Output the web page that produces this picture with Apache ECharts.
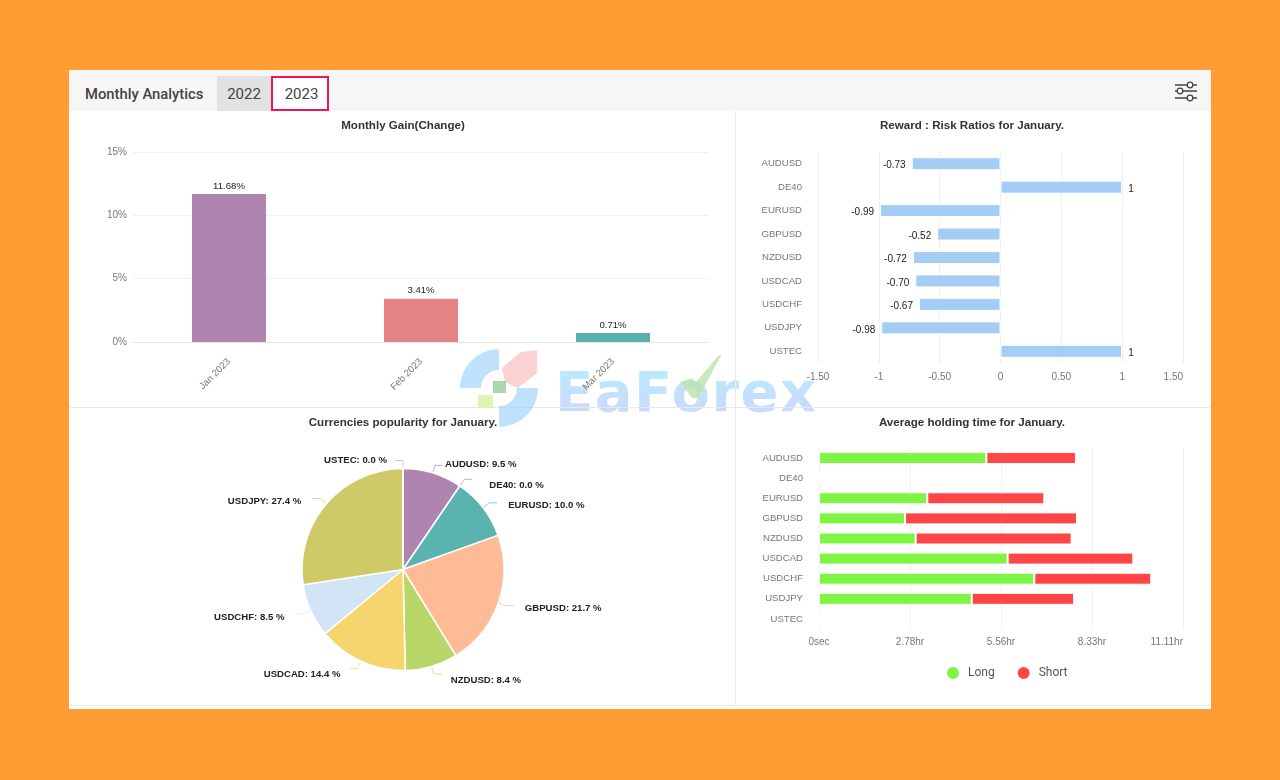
<!DOCTYPE html>
<html>
<head>
<meta charset="utf-8">
<title>Monthly Analytics</title>
<script src="https://cdn.jsdelivr.net/npm/echarts@6/dist/echarts.min.js"></script>
<style>
html, body { margin: 0; padding: 0; width: 1280px; height: 780px; background: #ff9c33; overflow: hidden; }
#panel { position: absolute; left: 69px; top: 70px; width: 1142px; height: 639px; background: #fff; }
#head { position: absolute; left: 0; top: 0; width: 1142px; height: 41px; background: #f6f6f6; font-family: Roboto, sans-serif; color: #444; }
#head .name { position: absolute; left: 16px; top: 15px; font-size: 14.8px; font-weight: 500; }
#head .tab { position: absolute; top: 6px; height: 35px; line-height: 36px; text-align: center; font-size: 15px; box-sizing: border-box; }
#t22 { left: 148px; width: 54px; background: #e2e2e2; }
#t23 { left: 202px; width: 58px; background: #fff; border: 2px solid #e8175d; line-height: 33px !important; padding-left: 3px; }
#icon { position: absolute; left: 1105px; top: 10px; }
#wm { position: absolute; left: 555px; top: 362px; font: bold 56px/60px "DejaVu Sans"; letter-spacing: 1.5px; color: transparent;
      background: linear-gradient(180deg, rgba(130,215,250,.55) 20%, rgba(170,190,250,.6) 85%); -webkit-background-clip: text; background-clip: text; }
#main { position: absolute; left: 0; top: 0; width: 1280px; height: 780px; }
</style>
</head>
<body>
<div id="panel">
  <div id="head">
    <div class="name">Monthly Analytics</div>
    <div class="tab" id="t22">2022</div>
    <div class="tab" id="t23">2023</div>
    <svg id="icon" width="24" height="22" fill="#fff" stroke="#444" stroke-width="1.3">
      <path d="M1 5H23M1 11H23M1 18H23"/>
      <circle cx="16" cy="5" r="2.8"/><circle cx="6" cy="11" r="2.8"/><circle cx="16" cy="18" r="2.8"/>
    </svg>
  </div>
</div>
<div id="wm">EaForex</div>
<div id="main"></div>
<script>
var months = ['Jan 2023', 'Feb 2023', 'Mar 2023'];
var monthGain = [11.68, 3.41, 0.71];
var monthColors = ['#b084b0', '#e38383', '#57b0ad'];

var symbols = ['AUDUSD', 'DE40', 'EURUSD', 'GBPUSD', 'NZDUSD', 'USDCAD', 'USDCHF', 'USDJPY', 'USTEC'];
var ratios = [-0.73, 1, -0.99, -0.52, -0.72, -0.70, -0.67, -0.98, 1];
var ratioTicks = ['-1.50', '-1', '-0.50', '0', '0.50', '1', '1.50'];

var popularity = [9.5, 0.0, 10.0, 21.7, 8.4, 14.4, 8.5, 27.4, 0.0];
var pieColors = ['#b084b0', '#c98fb5', '#5bb3b0', '#ffbb95', '#b9d668', '#f6d56e', '#d1e5f7', '#cfc967', '#bbbbbb'];

// seconds
var longHold = [18390, 0, 11900, 9450, 10620, 20730, 23660, 16780, 0];
var shortHold = [9850, 0, 12860, 18900, 17140, 13810, 12860, 11250, 0];

var axisText = { color: '#777', fontSize: 10, fontFamily: 'Liberation Sans' };
var catText = { color: '#777', fontSize: 9.6, fontFamily: 'Liberation Sans' };
var gridLine = { show: true, lineStyle: { color: '#eef0f3', width: 1 } };
var noLine = { show: false };

function title(text, x, y) {
    return {
        text: text, left: x, top: y, textAlign: 'center', padding: 0,
        textStyle: { color: '#333', fontSize: 11.6, fontWeight: 'bold', fontFamily: 'Liberation Sans' }
    };
}

function divider(x1, y1, x2, y2) {
    return { type: 'line', shape: { x1: x1, y1: y1, x2: x2, y2: y2 }, silent: true, z: 0, style: { stroke: '#e9e9e9', lineWidth: 1 } };
}

// watermark pieces
function mark(el, fill) {
    el.z = 100;
    el.silent = true;
    el.style = { fill: fill };
    return el;
}

var myChart = echarts.init(document.getElementById('main'), null, { renderer: 'canvas' });

var option = {
    animation: false,
    backgroundColor: 'transparent',
    title: [
        title('Monthly Gain(Change)', 403, 120),
        title('Reward : Risk Ratios for January.', 972, 120),
        title('Currencies popularity for January.', 403, 417),
        title('Average holding time for January.', 972, 417)
    ],
    grid: [
        { left: 133, top: 152, width: 576, height: 190 },
        { left: 818, top: 152, width: 365, height: 211 },
        { left: 819, top: 448, width: 364, height: 181 }
    ],
    xAxis: [
        {
            gridIndex: 0, type: 'category', data: months,
            axisLine: { lineStyle: { color: '#e6e6e6' } }, axisTick: noLine,
            axisLabel: Object.assign({}, catText, { rotate: 45, margin: 18 })
        },
        {
            gridIndex: 1, type: 'value', min: -1.5, max: 1.5, interval: 0.5,
            axisLine: noLine, axisTick: noLine, splitLine: gridLine,
            axisLabel: Object.assign({
                margin: 9, alignMaxLabel: 'right',
                formatter: function (v) { return ratioTicks[Math.round((v + 1.5) / 0.5)]; }
            }, axisText)
        },
        {
            gridIndex: 2, type: 'value', min: 0, max: 40000, interval: 10000,
            axisLine: noLine, axisTick: noLine, splitLine: gridLine,
            axisLabel: Object.assign({
                margin: 8, alignMaxLabel: 'right',
                formatter: function (v) { return v === 0 ? '0sec' : (v / 3600).toFixed(2) + 'hr'; }
            }, axisText)
        }
    ],
    yAxis: [
        {
            gridIndex: 0, type: 'value', min: 0, max: 15, interval: 5,
            axisLine: noLine, axisTick: noLine, splitLine: gridLine,
            axisLabel: Object.assign({ formatter: '{value}%', margin: 6 }, axisText)
        },
        {
            gridIndex: 1, type: 'category', data: symbols, inverse: true,
            axisLine: noLine, axisTick: noLine, axisLabel: Object.assign({ margin: 16 }, catText)
        },
        {
            gridIndex: 2, type: 'category', data: symbols, inverse: true,
            axisLine: noLine, axisTick: noLine, axisLabel: Object.assign({ margin: 16 }, catText)
        }
    ],
    legend: {
        left: 940, top: 660, itemWidth: 14, itemHeight: 14, itemGap: 21, icon: 'circle',
        data: ['Long', 'Short'],
        textStyle: { color: '#555', fontSize: 12, fontFamily: 'Roboto', padding: [0, 0, 0, 3] }
    },
    series: [
        {
            type: 'bar', xAxisIndex: 0, yAxisIndex: 0, barWidth: 74,
            data: monthGain.map(function (v, i) { return { value: v, itemStyle: { color: monthColors[i] } }; }),
            label: {
                show: true, position: 'top', distance: 3, color: '#222', fontSize: 9.6, fontFamily: 'Liberation Sans',
                formatter: function (p) { return p.value.toFixed(2) + '%'; }
            }
        },
        {
            type: 'bar', xAxisIndex: 1, yAxisIndex: 1, barWidth: 13,
            itemStyle: { color: '#a3cdf5', borderColor: '#fff', borderWidth: 1 },
            data: ratios.map(function (v) {
                return { value: v, label: { position: v < 0 ? 'left' : 'right' } };
            }),
            label: {
                show: true, distance: 6, color: '#222', fontSize: 10, fontFamily: 'Liberation Sans',
                offset: [0, 2],
                formatter: function (p) { return p.value === 1 ? '1' : p.value.toFixed(2); }
            }
        },
        {
            name: 'Long', type: 'bar', stack: 'hold', xAxisIndex: 2, yAxisIndex: 2, barWidth: 12,
            itemStyle: { color: '#7df542', borderColor: '#fff', borderWidth: 1 },
            data: longHold
        },
        {
            name: 'Short', type: 'bar', stack: 'hold', xAxisIndex: 2, yAxisIndex: 2, barWidth: 12,
            itemStyle: { color: '#ff4545', borderColor: '#fff', borderWidth: 1 },
            data: shortHold
        },
        {
            type: 'pie', center: [403, 569.5], radius: [0, 101], startAngle: 90, clockwise: true,
            avoidLabelOverlap: false, legendHoverLink: false,
            data: symbols.map(function (s, i) {
                return { name: s, value: popularity[i], itemStyle: { color: pieColors[i] } };
            }),
            itemStyle: { borderColor: '#fff', borderWidth: 1.5 },
            label: {
                color: '#222', fontSize: 9.6, fontWeight: 'bold', fontFamily: 'Liberation Sans',
                formatter: function (p) { return p.name + ': ' + p.value.toFixed(1) + ' %'; }
            },
            labelLine: { length: 8, length2: 8, lineStyle: { width: 1, opacity: 0.7 } },
            labelLayout: function (p) {
                // nudge the labels off the default spot, same order as symbols
                var nudge = [[-3, -1], [12, 6], [6, 3], [6, 3], [4, 6], [-4, 6], [-6, 3], [-6, 3], [-3, 0]][p.dataIndex];
                return { dx: nudge[0], dy: nudge[1] };
            }
        }
    ],
    color: ['#7df542', '#ff4545'],
    graphic: [
        divider(735.5, 111, 735.5, 705),
        divider(70, 407.5, 1210, 407.5),
        divider(70, 705.5, 1210, 705.5),
        mark({ type: 'sector', shape: { cx: 499, cy: 388, r: 39, r0: 18, startAngle: Math.PI, endAngle: Math.PI * 1.5 } }, 'rgba(150,205,250,.6)'),
        mark({ type: 'sector', shape: { cx: 499, cy: 388, r: 39, r0: 18, startAngle: 0, endAngle: Math.PI * 0.5 } }, 'rgba(150,205,250,.6)'),
        mark({ type: 'polygon', shape: { points: [[502, 368], [521, 352], [537, 350], [537, 373], [518, 388], [505, 382]] } }, 'rgba(250,190,190,.7)'),
        mark({ type: 'rect', shape: { x: 493, y: 381, width: 13, height: 12 } }, 'rgba(150,205,150,.8)'),
        mark({ type: 'rect', shape: { x: 478, y: 395, width: 15, height: 13 } }, 'rgba(215,240,160,.8)'),
        mark({ type: 'polygon', shape: { points: [[680, 382], [692, 378], [696, 382], [718, 356], [722, 354], [698, 398], [692, 398]] } }, 'rgba(190,225,170,.8)')
    ]
};

if (option && typeof option === "object") {
    myChart.setOption(option, true);
}
</script>
</body>
</html>
